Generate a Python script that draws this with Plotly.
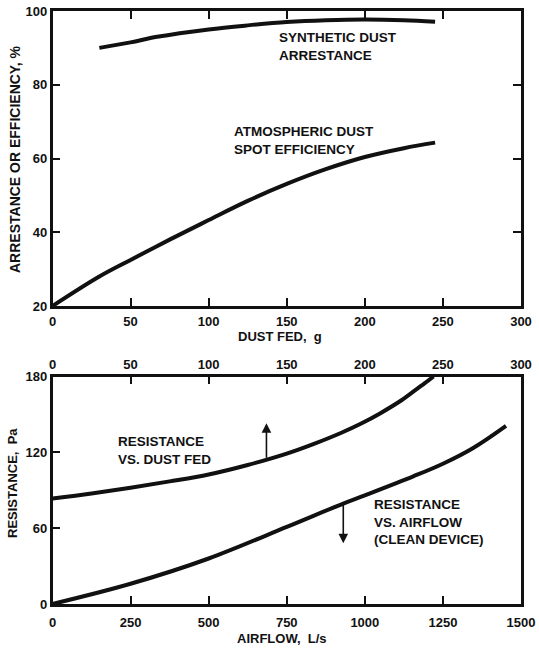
import plotly.graph_objects as go

# ---- data ----
synthetic_dust_g = [30, 50, 67, 100, 125, 150, 175, 200, 225, 245]
synthetic_arrest = [90, 91.5, 93, 95, 96.1, 97, 97.5, 97.7, 97.5, 97.1]

atmos_dust_g = [0, 30, 50, 75, 100, 125, 150, 175, 200, 225, 245]
atmos_eff = [20, 28, 32.5, 38, 43.3, 48.5, 53.1, 57.1, 60.4, 62.8, 64.3]

res_dust_g = [0, 25, 50, 75, 100, 125, 150, 167, 185, 198, 210, 222, 231, 238, 244]
res_dust_pa = [83.5, 87.5, 92, 97, 102.5, 110, 119, 126.5, 135.5, 143, 151, 160, 168, 174.3, 180]

res_air_ls = [0, 250, 500, 750, 931, 1000, 1155, 1250, 1347, 1452]
res_air_pa = [0, 16, 36, 61, 79.5, 86, 101, 111, 123.5, 141]

top_x_ticks = [0, 50, 100, 150, 200, 250, 300]
top_y_ticks = [20, 40, 60, 80, 100]
bot_x_ticks = [0, 250, 500, 750, 1000, 1250, 1500]
bot_y_ticks = [0, 60, 120, 180]

# arrow markers (data coords): x, tail y, head y
arrow_dust = [137, 114.5, 143]
arrow_air = [931, 79.5, 48]

FONT = "Liberation Sans"
BLACK = "#111111"
LW = 4

fig = go.Figure()
fig.add_trace(go.Scatter(x=synthetic_dust_g, y=synthetic_arrest, mode="lines",
                         line=dict(color=BLACK, width=LW, shape="spline"),
                         xaxis="x", yaxis="y", showlegend=False))
fig.add_trace(go.Scatter(x=atmos_dust_g, y=atmos_eff, mode="lines",
                         line=dict(color=BLACK, width=LW, shape="spline"),
                         xaxis="x", yaxis="y", showlegend=False))
fig.add_trace(go.Scatter(x=res_dust_g, y=res_dust_pa, mode="lines",
                         line=dict(color=BLACK, width=LW, shape="spline"),
                         xaxis="x3", yaxis="y2", showlegend=False))
fig.add_trace(go.Scatter(x=res_air_ls, y=res_air_pa, mode="lines",
                         line=dict(color=BLACK, width=LW, shape="spline"),
                         xaxis="x2", yaxis="y2", showlegend=False))

tickfont = dict(family=FONT, size=13, color=BLACK, weight="bold")
XD = [52.5 / 539, 521 / 539]
TOP_D = [1 - 306 / 652, 1 - 11 / 652]
BOT_D = [1 - 604 / 652, 1 - 376.5 / 652]

common = dict(showline=True, linecolor=BLACK, linewidth=2.5, ticks="inside",
              ticklen=8, tickwidth=2, tickcolor=BLACK, showgrid=False,
              zeroline=False, tickfont=tickfont, automargin=False)

fig.update_layout(
    width=539, height=652,
    margin=dict(l=0, r=0, t=0, b=0),
    paper_bgcolor="white", plot_bgcolor="white",
    xaxis=dict(domain=XD, range=[0, 300], tickvals=top_x_ticks, anchor="y",
               mirror="ticks", ticklabelstandoff=2, **common),
    yaxis=dict(domain=TOP_D, range=[20, 100], tickvals=top_y_ticks, anchor="x",
               mirror="ticks", **common),
    xaxis2=dict(domain=XD, range=[0, 1500], tickvals=bot_x_ticks, anchor="y2",
                ticklabelstandoff=5, **common),
    yaxis2=dict(domain=BOT_D, range=[0, 180], tickvals=bot_y_ticks, anchor="x2",
                mirror=True, **common),
    xaxis3=dict(range=[0, 300], tickvals=top_x_ticks, overlaying="x2",
                anchor="y2", side="top", **common),
)

def note(text, x, y, xref, yref, xanchor="left", size=13.5, **kw):
    fig.add_annotation(text=text, x=x, y=y, xref=xref, yref=yref,
                       xanchor=xanchor, yanchor="middle", showarrow=False,
                       align="left", borderpad=0,
                       font=dict(family=FONT, size=size, color=BLACK, weight="bold"),
                       **kw)

note("SYNTHETIC DUST<br>ARRESTANCE", 144.7, 90.4, "x", "y")
note("ATMOSPHERIC DUST<br>SPOT EFFICIENCY", 115.8, 64.95, "x", "y")
note("RESISTANCE<br>VS. DUST FED", 206, 121.5, "x2", "y2")
note("RESISTANCE<br>VS. AIRFLOW<br>(CLEAN DEVICE)", 1026, 65.1, "x2", "y2")

note("DUST FED,  g", 280 / 539, 1 - 336 / 652, "paper", "paper", xanchor="center", size=13)
note("AIRFLOW,  L/s", 282 / 539, 1 - 638 / 652, "paper", "paper", xanchor="center", size=13)
note("ARRESTANCE OR EFFICIENCY, %", 15 / 539, 1 - 160 / 652, "paper", "paper",
     xanchor="center", textangle=-90, size=14)
note("RESISTANCE,  Pa", 12 / 539, 1 - 483 / 652, "paper", "paper",
     xanchor="center", textangle=-90, size=13)

fig.add_annotation(x=arrow_dust[0], y=arrow_dust[2], ax=arrow_dust[0], ay=arrow_dust[1],
                   xref="x3", yref="y2", axref="x3", ayref="y2", text="",
                   showarrow=True, arrowhead=2, arrowsize=1.2, arrowwidth=1.6,
                   arrowcolor=BLACK)
fig.add_annotation(x=arrow_air[0], y=arrow_air[2], ax=arrow_air[0], ay=arrow_air[1],
                   xref="x2", yref="y2", axref="x2", ayref="y2", text="",
                   showarrow=True, arrowhead=2, arrowsize=1.2, arrowwidth=1.6,
                   arrowcolor=BLACK)

fig.write_html("out.html", config={"displayModeBar": False},
               post_script="document.body.style.margin='0';document.body.style.overflow='hidden';")
